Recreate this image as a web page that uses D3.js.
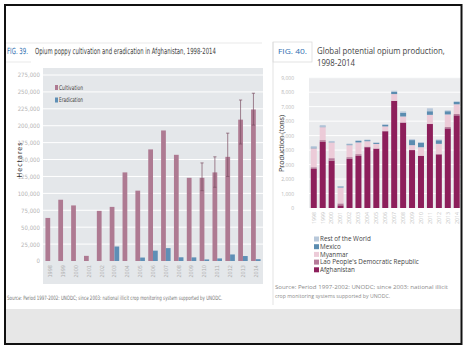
<!DOCTYPE html>
<html><head><meta charset="utf-8">
<script src="https://cdn.jsdelivr.net/npm/d3@7"></script>
<style>
html,body{margin:0;padding:0;background:#fff;}
svg{display:block;}
</style></head>
<body>
<svg id="c" width="468" height="352"></svg>
<script>
// ---------- DATA ----------
const years = ["1998","1999","2000","2001","2002","2003","2004","2005","2006","2007","2008","2009","2010","2011","2012","2013","2014"];
// Fig 39 (hectares)
const cultivation = [63674,90583,82171,7606,74100,80000,131000,104000,165000,193000,157000,123000,123000,131000,154000,209000,224000];
const eradication = [0,0,0,0,0,21430,0,5103,15300,19047,5480,5351,2316,3810,9672,7348,2692];
const errLow  = [null,null,null,null,null,null,null,null,null,null,null,null,104000,109000,125000,173000,201000];
const errHigh = [null,null,null,null,null,null,null,null,null,null,null,null,145000,154000,189000,238000,248000];
const hectareTicks = [0,25000,50000,75000,100000,125000,150000,175000,200000,225000,250000,275000];
// Fig 40 (tons)
const afghanistan = [2693,4565,3276,185,3400,3600,4200,4100,5300,7400,5900,4000,3600,5800,3700,5500,6400];
const lao         = [124,124,167,134,112,120,43,14,20,9,10,11,18,25,41,92,92];
const myanmar     = [1303,895,1087,1097,828,810,370,312,315,460,410,330,580,610,690,870,670];
const mexico      = [60,43,21,71,58,101,73,71,108,149,250,350,300,250,250,225,162];
const restWorld   = [90,100,80,30,50,50,40,40,50,80,100,60,60,200,50,60,50];
const tonTicks = [0,1000,2000,3000,4000,5000,6000,7000,8000,9000];
const seriesKeys = ["Afghanistan","Lao People's Democratic Republic","Myanmar","Mexico","Rest of the World"];
const legendOrder = ["Rest of the World","Mexico","Myanmar","Lao People's Democratic Republic","Afghanistan"];

const svg = d3.select("#c");
const narrow = "'Liberation Sans Narrow','DejaVu Sans Condensed','Arial Narrow',sans-serif";
const humanist = "'Open Sans','Noto Sans',sans-serif";
const fmt = d3.format(",");

// text fitted to a target width by a horizontal scale
function fitText(parent, x, y, width, str, family, size, fill){
  const t = parent.append("text").attr("x",0).attr("y",0)
    .attr("font-family",family).attr("font-size",size).attr("fill",fill).text(str);
  const w = t.node().getComputedTextLength() || width;
  t.attr("transform",`translate(${x},${y}) scale(${width/w},1)`);
  return t;
}

// ---------- background / frame ----------
svg.append("rect").attr("x",6).attr("y",309).attr("width",455).attr("height",35).attr("fill","#e7e7e7");
svg.append("line").attr("x1",6).attr("x2",262).attr("y1",43).attr("y2",43).attr("stroke","#e3e3e3").attr("stroke-width",0.8);
svg.append("line").attr("x1",6).attr("x2",31).attr("y1",62).attr("y2",62).attr("stroke","#e3e3e3").attr("stroke-width",0.8);

// ---------- LEFT CHART (Fig 39) ----------
const L = {x0:43, x1:263, yTop:68, yBot:284};
svg.append("rect").attr("x",L.x0).attr("y",L.yTop).attr("width",L.x1-L.x0).attr("height",L.yBot-L.yTop).attr("fill","#e4e7ea");

const yL = d3.scaleLinear().domain([0,275000]).range([261,75]);
const xL = d3.scaleBand().domain(years).range([L.x0,L.x1]).paddingInner(0.26).paddingOuter(0.19);
const xSub = d3.scaleBand().domain(["c","e"]).range([0,xL.bandwidth()]);

svg.append("g").selectAll("line").data(hectareTicks.slice(1)).join("line")
  .attr("x1",L.x0).attr("x2",L.x1).attr("y1",d=>yL(d)).attr("y2",d=>yL(d))
  .attr("stroke","#fff").attr("stroke-width",1);

const yAxisL = d3.axisLeft(yL).tickValues(hectareTicks).tickFormat(fmt).tickSize(0).tickPadding(0);
const gyl = svg.append("g").attr("transform","translate(40,0)").call(yAxisL);
gyl.select(".domain").remove();
gyl.selectAll("text").attr("font-family",narrow).attr("font-size",6).attr("fill","#b5b5b5");

const leftData = years.map((y,i)=>({year:y,c:cultivation[i],e:eradication[i],lo:errLow[i],hi:errHigh[i]}));
svg.append("g").selectAll("rect").data(leftData).join("rect")
  .attr("x",d=>xL(d.year)+xSub("c")).attr("width",xSub.bandwidth())
  .attr("y",d=>yL(d.c)).attr("height",d=>yL(0)-yL(d.c)).attr("fill","#ae7a92");
svg.append("g").selectAll("rect").data(leftData.filter(d=>d.e>0)).join("rect")
  .attr("x",d=>xL(d.year)+xSub("e")).attr("width",xSub.bandwidth())
  .attr("y",d=>yL(d.e)).attr("height",d=>yL(0)-yL(d.e)).attr("fill","#5e8fb6");
// error bars
const eb = svg.append("g").selectAll("g").data(leftData.filter(d=>d.hi!=null)).join("g")
  .attr("stroke","#7b4f63").attr("stroke-width",0.7);
const cx = d=>xL(d.year)+xSub("c")+xSub.bandwidth()/2;
eb.append("line").attr("x1",cx).attr("x2",cx).attr("y1",d=>yL(d.lo)).attr("y2",d=>yL(d.hi));
eb.append("line").attr("x1",d=>cx(d)-1.6).attr("x2",d=>cx(d)+1.6).attr("y1",d=>yL(d.hi)).attr("y2",d=>yL(d.hi));
eb.append("line").attr("x1",d=>cx(d)-1.6).attr("x2",d=>cx(d)+1.6).attr("y1",d=>yL(d.lo)).attr("y2",d=>yL(d.lo));

// x labels
svg.append("g").selectAll("text").data(years).join("text")
  .attr("transform",d=>`translate(${xL(d)+xL.bandwidth()/2},265) rotate(-90)`)
  .attr("text-anchor","end").attr("dy","0.35em")
  .attr("font-family",narrow).attr("font-size",5.5).attr("fill","#b0b0b0").text(d=>d);

// legend
const legL = [{k:"Cultivation",c:"#ae7a92"},{k:"Eradication",c:"#5e8fb6"}];
legL.forEach((d,i)=>{
  svg.append("rect").attr("x",55).attr("y",85+i*12.5).attr("width",3).attr("height",5).attr("fill",d.c);
  fitText(svg, 59, 89.6+i*12.5, 24, d.k, narrow, 6.5, "#444");
});

// axis title
svg.append("text").attr("transform","translate(22,160) rotate(-90)").attr("text-anchor","middle")
  .attr("font-family",narrow).attr("font-size",7).attr("fill","#333")
  .attr("textLength",35).attr("lengthAdjust","spacing").text("Hectares");

// title
fitText(svg, 7, 54, 21, "FIG. 39.", narrow, 8.5, "#2f6fb0");
fitText(svg, 35, 54, 181, "Opium poppy cultivation and eradication in Afghanistan, 1998-2014", narrow, 8.5, "#444");
// source
fitText(svg, 7, 300, 216, "Source: Period 1997-2002: UNODC; since 2003: national illicit crop monitoring system supported by UNODC.", narrow, 6, "#777");

// ---------- RIGHT CHART (Fig 40) ----------
svg.append("line").attr("x1",273).attr("x2",273).attr("y1",42).attr("y2",305).attr("stroke","#dcdcdc").attr("stroke-width",0.8);
svg.append("rect").attr("x",273).attr("y",42).attr("width",39).attr("height",20).attr("fill","none").attr("stroke","#dcdcdc").attr("stroke-width",0.8);

const R = {x0:309, x1:461.5, yTop:77, yBot:208};
svg.append("rect").attr("x",R.x0).attr("y",R.yTop).attr("width",R.x1-R.x0).attr("height",R.yBot-R.yTop).attr("fill","#ebecee");
const yR = d3.scaleLinear().domain([0,9000]).range([208,77.7]);
const xR = d3.scaleBand().domain(years).range([R.x0,R.x1]).paddingInner(0.33).paddingOuter(0.2);

svg.append("g").selectAll("line").data(tonTicks.slice(1)).join("line")
  .attr("x1",R.x0).attr("x2",R.x1).attr("y1",d=>yR(d)).attr("y2",d=>yR(d))
  .attr("stroke","#fff").attr("stroke-width",1);

const gyr = svg.append("g").attr("transform","translate(294,0)")
  .call(d3.axisLeft(yR).tickValues(tonTicks).tickFormat(fmt).tickSize(0).tickPadding(0));
gyr.select(".domain").remove();
gyr.selectAll("text").attr("font-family",humanist).attr("font-size",5).attr("fill","#b8b8b8");

const table = years.map((y,i)=>({year:y,
  "Afghanistan":afghanistan[i],"Lao People's Democratic Republic":lao[i],
  "Myanmar":myanmar[i],"Mexico":mexico[i],"Rest of the World":restWorld[i]}));
const colors = d3.scaleOrdinal().domain(seriesKeys).range(["#8d1f5b","#b67b9a","#eccbd8","#5b8cb0","#b8c8da"]);
const stacked = d3.stack().keys(seriesKeys)(table);
svg.append("g").selectAll("g").data(stacked).join("g").attr("fill",d=>colors(d.key))
  .selectAll("rect").data(d=>d).join("rect")
  .attr("x",d=>xR(d.data.year)).attr("width",xR.bandwidth())
  .attr("y",d=>yR(d[1])).attr("height",d=>yR(d[0])-yR(d[1]));

svg.append("g").selectAll("text").data(years).join("text")
  .attr("transform",d=>`translate(${xR(d)+xR.bandwidth()/2},212) rotate(-90)`)
  .attr("text-anchor","end").attr("dy","0.35em")
  .attr("font-family",humanist).attr("font-size",5.2).attr("fill","#c4c4c4").text(d=>d);

svg.append("text").attr("transform","translate(283.5,143.5) rotate(-90)").attr("text-anchor","middle")
  .attr("font-family",humanist).attr("font-size",6.5).attr("fill","#333")
  .attr("textLength",57).attr("lengthAdjust","spacingAndGlyphs").text("Production (tons)");

// legend
const lgr = svg.append("g").selectAll("g").data(legendOrder).join("g")
  .attr("transform",(d,i)=>`translate(314,${236.5+i*7.7})`);
lgr.append("rect").attr("width",5).attr("height",5).attr("fill",d=>colors(d));
lgr.append("text").attr("x",6).attr("y",4.8).attr("font-family",humanist).attr("font-size",6.3).attr("fill","#444").text(d=>d);

// title
fitText(svg, 278, 53.5, 29, "FIG. 40.", humanist, 7.5, "#2f6fb0");
fitText(svg, 317, 53.5, 128, "Global potential opium production,", humanist, 8.5, "#444");
fitText(svg, 317, 65.5, 38, "1998-2014", humanist, 8.5, "#444");
// source
fitText(svg, 275, 289, 173, "Source: Period 1997-2002: UNODC; since 2003: national illicit", humanist, 5.8, "#8a8a8a");
fitText(svg, 275, 297.8, 115, "crop monitoring systems supported by UNODC.", humanist, 5.8, "#8a8a8a");

// frame on top
svg.append("rect").attr("x",5).attr("y",5).attr("width",456.5).attr("height",339).attr("fill","none")
  .attr("stroke","#111").attr("stroke-width",2);
</script>
</body></html>
